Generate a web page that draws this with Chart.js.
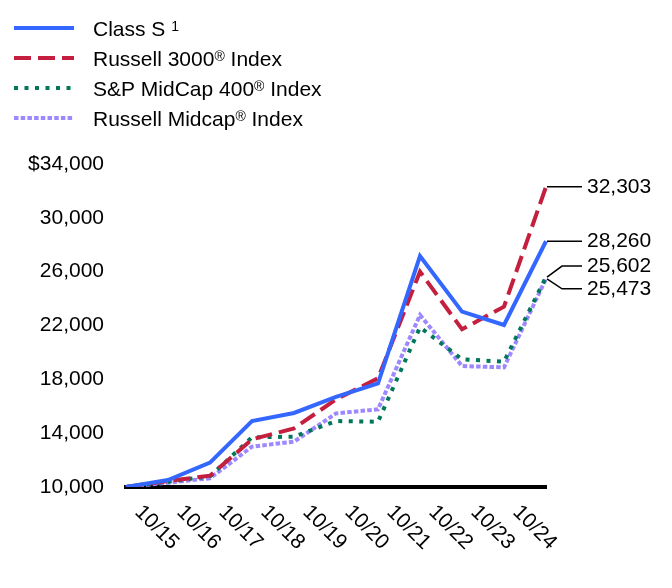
<!DOCTYPE html>
<html><head><meta charset="utf-8">
<script src="https://cdn.jsdelivr.net/npm/chart.js@4/dist/chart.umd.min.js"></script>
<style>html,body{margin:0;padding:0;background:#fff}#wrap{width:672px;height:588px}</style>
</head><body><div id="wrap"><canvas id="c" width="672" height="588"></canvas></div>
<script>
const categories = ['10/15','10/16','10/17','10/18','10/19','10/20','10/21','10/22','10/23','10/24',''];
const seriesNames = ['Class S \u00B9', 'Russell 3000\u00AE Index', 'S&P MidCap 400\u00AE Index', 'Russell Midcap\u00AE Index'];
const classS       = [10000, 10520, 11810, 14900, 15500, 16700, 17700, 27160, 23030, 22040, 28260];
const russell3000  = [10000, 10450, 10840, 13540, 14360, 16510, 18080, 26000, 21720, 23400, 32303];
const sp400        = [10000, 10390, 10800, 13690, 13740, 14900, 14850, 21870, 19490, 19310, 25602];
const russellMid   = [10000, 10320, 10650, 13000, 13370, 15470, 15770, 22780, 18990, 18890, 25473];
const yTicks = [10000, 14000, 18000, 22000, 26000, 30000, 34000];

const FONT = '"Liberation Sans", Arial, sans-serif';
const FS = 21;
const fmt = v => v.toLocaleString('en-US');

const legendPlugin = {
  id: 'customLegend',
  afterDraw(chart) {
    const ctx = chart.ctx;
    ctx.save();
    chart.data.datasets.forEach((ds, i) => {
      const y = 28 + 30 * i;
      ctx.beginPath();
      ctx.strokeStyle = ds.borderColor;
      ctx.lineWidth = ds.borderWidth;
      ctx.setLineDash(ds.borderDash || []);
      ctx.lineCap = 'butt';
      ctx.moveTo(14, y); ctx.lineTo(74, y);
      ctx.stroke();
      ctx.setLineDash([]);
      let x = 93;
      const base = y + 7.5;
      ctx.fillStyle = '#000';
      ctx.textBaseline = 'alphabetic';
      ctx.textAlign = 'left';
      for (const ch of ds.label) {
        if (ch === '\u00B9' || ch === '\u00AE') {
          const t = ch === '\u00B9' ? '1' : '\u00AE';
          ctx.font = '14px ' + FONT;
          ctx.fillText(t, x, base - 5);
          x += ctx.measureText(t).width;
        } else {
          ctx.font = FS + 'px ' + FONT;
          ctx.fillText(ch, x, base);
          x += ctx.measureText(ch).width;
        }
      }
    });
    ctx.restore();
  }
};

const xLabelPlugin = {
  id: 'xLabels',
  afterDraw(chart) {
    const ctx = chart.ctx, xs = chart.scales.x, ys = chart.scales.y;
    ctx.save();
    ctx.font = FS + 'px ' + FONT;
    ctx.fillStyle = '#000';
    ctx.textAlign = 'left';
    ctx.textBaseline = 'middle';
    categories.forEach((c, i) => {
      if (!c) return;
      const px = xs.getPixelForValue(i);
      ctx.save();
      ctx.translate(px + 12, ys.bottom + 22);
      ctx.rotate(Math.PI / 4);
      ctx.fillText(c, 0, 0);
      ctx.restore();
    });
    ctx.restore();
  }
};

const endLabelPlugin = {
  id: 'endLabels',
  afterDraw(chart) {
    const ctx = chart.ctx, xs = chart.scales.x, ys = chart.scales.y;
    const last = categories.length - 1;
    const offsets = [0, 0, -11, 10];
    ctx.save();
    ctx.font = FS + 'px ' + FONT;
    ctx.fillStyle = '#000';
    ctx.strokeStyle = '#000';
    ctx.lineWidth = 1.5;
    ctx.textAlign = 'left';
    ctx.textBaseline = 'middle';
    chart.data.datasets.forEach((ds, i) => {
      const v = ds.data[last];
      const px = xs.getPixelForValue(last);
      const py = ys.getPixelForValue(v);
      const ty = py + offsets[i];
      ctx.beginPath();
      if (offsets[i] === 0) {
        ctx.moveTo(px + 1, py); ctx.lineTo(582, py);
      } else {
        ctx.moveTo(px + 1, py); ctx.lineTo(px + 16, ty); ctx.lineTo(582, ty);
      }
      ctx.stroke();
      ctx.fillText(fmt(v), 587, ty);
    });
    ctx.restore();
  }
};

const common = { pointRadius: 0, pointHoverRadius: 0, tension: 0, fill: false, borderWidth: 4, borderJoinStyle: 'miter', borderCapStyle: 'butt' };

new Chart(document.getElementById('c'), {
  type: 'line',
  data: {
    labels: categories,
    datasets: [
      Object.assign({ label: seriesNames[0], data: classS, borderColor: '#3467FF' }, common),
      Object.assign({ label: seriesNames[1], data: russell3000, borderColor: '#C41F3E', borderDash: [17, 7] }, common),
      Object.assign({ label: seriesNames[2], data: sp400, borderColor: '#00775A', borderDash: [4, 6.5] }, common),
      Object.assign({ label: seriesNames[3], data: russellMid, borderColor: '#9D88FF', borderDash: [4.5, 2.2] }, common)
    ]
  },
  options: {
    responsive: false,
    animation: false,
    devicePixelRatio: 1,
    layout: { padding: { left: 0, top: 164, right: 126, bottom: 101 } },
    plugins: { legend: { display: false }, tooltip: { enabled: false } },
    scales: {
      x: {
        type: 'category', offset: false,
        grid: { display: false, drawTicks: false },
        ticks: { display: false },
        border: { display: true, color: '#000', width: 4 },
        afterFit(s) { s.height = 0; }
      },
      y: {
        min: yTicks[0], max: yTicks[yTicks.length - 1],
        afterBuildTicks(s) { s.ticks = yTicks.map(v => ({ value: v })); },
        grid: { display: false, drawTicks: false },
        border: { display: false },
        ticks: {
          padding: 22, color: '#000', font: { size: FS, family: FONT },
          callback: (v) => (v === yTicks[yTicks.length - 1] ? '$' : '') + fmt(v)
        },
        afterFit(s) { s.width = 126; }
      }
    }
  },
  plugins: [legendPlugin, xLabelPlugin, endLabelPlugin]
});
</script></body></html>
